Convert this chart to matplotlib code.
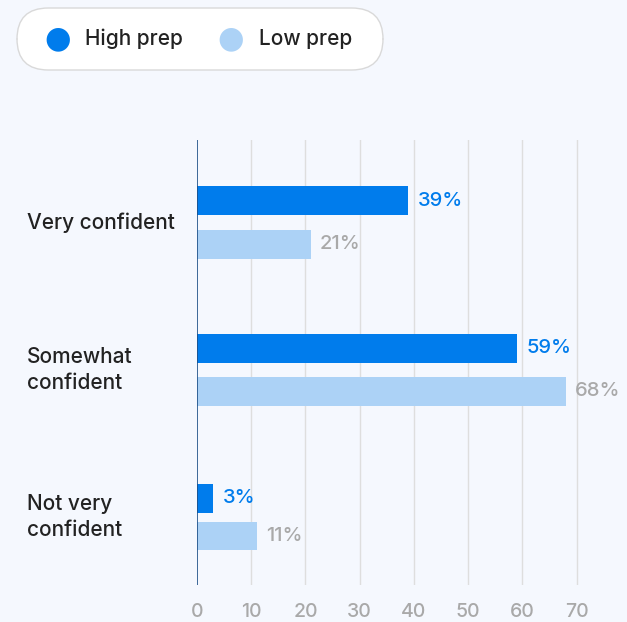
import numpy as np
import matplotlib.pyplot as plt
from matplotlib.patches import FancyBboxPatch
from matplotlib.transforms import blended_transform_factory

categories = ["Very confident", "Somewhat\nconfident", "Not very\nconfident"]
high_prep = [39, 59, 3]
low_prep = [21, 68, 11]
series_names = ["High prep", "Low prep"]

BG = "#f5f8fe"
HIGH = "#007cec"
LOW = "#acd2f6"
GREY = "#a9a9a9"
DARK = "#222222"

plt.rcParams["font.family"] = ["Inter", "DejaVu Sans"]

fig = plt.figure(figsize=(6.27, 6.22), dpi=100, facecolor=BG)
ax = fig.add_axes([197 / 627, 1 - 585 / 622, 423 / 627, 445 / 622], facecolor=BG)

y = np.arange(len(categories))
h = 0.193
offs = np.array([0.148, 0.146, 0.128])
ax.barh(y - offs, high_prep, height=h, color=HIGH, zorder=3)
ax.barh(y + offs, low_prep, height=h, color=LOW, zorder=3)

for yi, o, v in zip(y, offs, high_prep):
    ax.text(v + 1.7, yi - o, f"{v}%", va="center", ha="left", color=HIGH,
            fontsize=14.5, fontweight="medium")
for yi, o, v in zip(y, offs, low_prep):
    ax.text(v + 1.7, yi + o, f"{v}%", va="center", ha="left", color=GREY,
            fontsize=14.5, fontweight="medium")

ax.set_xlim(0, 78)
ax.set_ylim(2.46, -0.56)
ax.set_xticks(range(0, 71, 10))
ax.set_yticks([])
ax.tick_params(axis="x", length=0, pad=13, labelsize=14, labelcolor=GREY)
for t in ax.get_xticklabels():
    t.set_fontweight("medium")
for x in range(10, 71, 10):
    ax.axvline(x, color="#dedede", linewidth=1, zorder=1)
ax.axvline(0, color="#1d4f87", linewidth=1.2, zorder=4)
for s in ax.spines.values():
    s.set_visible(False)

trans = blended_transform_factory(fig.transFigure, ax.transData)
for yi, c in zip(y, categories):
    ax.text(27 / 627, yi, c, transform=trans, ha="left", va="center",
            fontsize=15, color=DARK, linespacing=1.35, fontweight="medium")

# legend pill
box = FancyBboxPatch((17 / 627, 1 - 70 / 622), 366 / 627, 62 / 622,
                     boxstyle="round,pad=0,rounding_size=0.05",
                     transform=fig.transFigure, facecolor="white",
                     edgecolor="#d9d9d9", linewidth=1)
fig.patches.append(box)
ly = 1 - 39 / 622
for xm, xt, col, name in [(58, 85, HIGH, series_names[0]), (231, 259, LOW, series_names[1])]:
    fig.text(xm / 627, ly, "\u25CF", color=col, fontsize=22, ha="center", va="center",
             family="DejaVu Sans")
    fig.text(xt / 627, ly, name, color=DARK, fontsize=15, ha="left", va="center",
             fontweight="medium")

fig.savefig("out.png", dpi=100, facecolor=BG)
